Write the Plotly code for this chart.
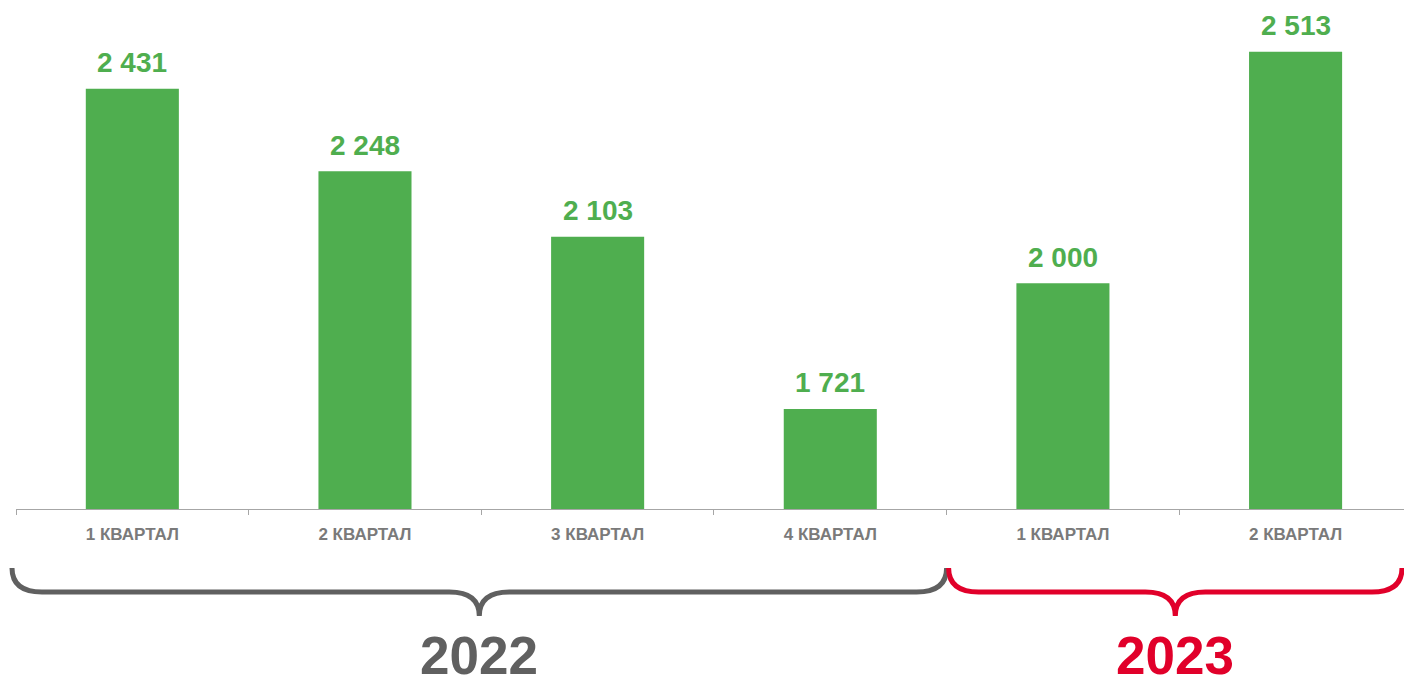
import plotly.graph_objects as go

categories = ["1 КВАРТАЛ", "2 КВАРТАЛ", "3 КВАРТАЛ", "4 КВАРТАЛ", "1 КВАРТАЛ ", "2 КВАРТАЛ "]
tick_labels = ["1 КВАРТАЛ", "2 КВАРТАЛ", "3 КВАРТАЛ", "4 КВАРТАЛ", "1 КВАРТАЛ", "2 КВАРТАЛ"]
values = [2431, 2248, 2103, 1721, 2000, 2513]
value_labels = ["2 431", "2 248", "2 103", "1 721", "2 000", "2 513"]
years = ["2022", "2023"]
year_spans = [(0, 3), (4, 5)]  # first and last category index in each year

W, H = 1404, 677
ML, MR, MT, MB = 16, 0, 0, 168
X_RANGE = [-0.5, 5.466]
Y_RANGE = [1499, 2628]

GREEN = "#4FAE4F"
GRAY_TXT = "#7a7a7a"
GRAY_BR = "#606060"
RED = "#E1002A"
FONT = "Liberation Sans, Arial, sans-serif"

fig = go.Figure()
fig.add_trace(go.Bar(
    x=categories, y=values, marker=dict(color=GREEN, line=dict(width=0)),
    width=0.4, hoverinfo="skip", showlegend=False,
))

for c, v, t in zip(categories, values, value_labels):
    fig.add_annotation(x=c, y=v, text=f"<b>{t}</b>", showarrow=False,
                       yanchor="middle", yshift=26,
                       font=dict(family=FONT, size=28, color=GREEN))

plot_w = W - ML - MR
plot_h = H - MT - MB


def px_x(idx):
    return ML + (idx - X_RANGE[0]) / (X_RANGE[1] - X_RANGE[0]) * plot_w


def to_paper(px, py):
    return (px - ML) / plot_w, (MT + plot_h - py) / plot_h


def brace_path(x0, x1, ytop=568, ymid=592, ybot=616, r=30):
    cx = (x0 + x1) / 2
    pts = [
        ("M", [(x0, ytop)]),
        ("Q", [(x0, ymid), (x0 + r, ymid)]),
        ("L", [(cx - r, ymid)]),
        ("Q", [(cx, ymid), (cx, ybot)]),
        ("Q", [(cx, ymid), (cx + r, ymid)]),
        ("L", [(x1 - r, ymid)]),
        ("Q", [(x1, ymid), (x1, ytop)]),
    ]
    s = ""
    for cmd, ps in pts:
        s += cmd + " " + " ".join("%.5f,%.5f" % to_paper(*p) for p in ps) + " "
    return s.strip()


colors = [GRAY_BR, RED]
for (a, b), yr, col in zip(year_spans, years, colors):
    if a == 0:
        left = px_x(a - 0.5) - 4
        right = px_x(b + 0.5)
    else:
        left = px_x(a - 0.5) + 2
        right = W - 2
    fig.add_shape(type="path", path=brace_path(left, right), xref="paper", yref="paper",
                  line=dict(color=col, width=5), layer="above")
    cxp, cyp = to_paper((left + right) / 2, 655)
    fig.add_annotation(x=cxp, y=cyp, xref="paper", yref="paper", text=f"<b>{yr}</b>",
                       showarrow=False, xanchor="center", yanchor="middle",
                       font=dict(family=FONT, size=53, color=col))

fig.update_layout(
    width=W, height=H,
    margin=dict(l=ML, r=MR, t=MT, b=MB, pad=0),
    plot_bgcolor="white", paper_bgcolor="white",
    bargap=0.6,
    xaxis=dict(
        type="category", range=X_RANGE, tickvals=categories, ticktext=[f"<b>{t}</b>" for t in tick_labels],
        tickson="boundaries", ticks="outside", ticklen=5, tickcolor="#a6a6a6", tickwidth=1,
        showline=True, linecolor="#a6a6a6", linewidth=1, showgrid=False, zeroline=False,
        tickfont=dict(family=FONT, size=17, color=GRAY_TXT), fixedrange=True,
        ticklabelstandoff=10,
    ),
    yaxis=dict(range=Y_RANGE, visible=False, showgrid=False, zeroline=False, fixedrange=True),
)

fig.write_html("out.html", config={"displayModeBar": False, "staticPlot": True},
               post_script="document.body.style.margin='0';document.body.style.overflow='hidden';")
